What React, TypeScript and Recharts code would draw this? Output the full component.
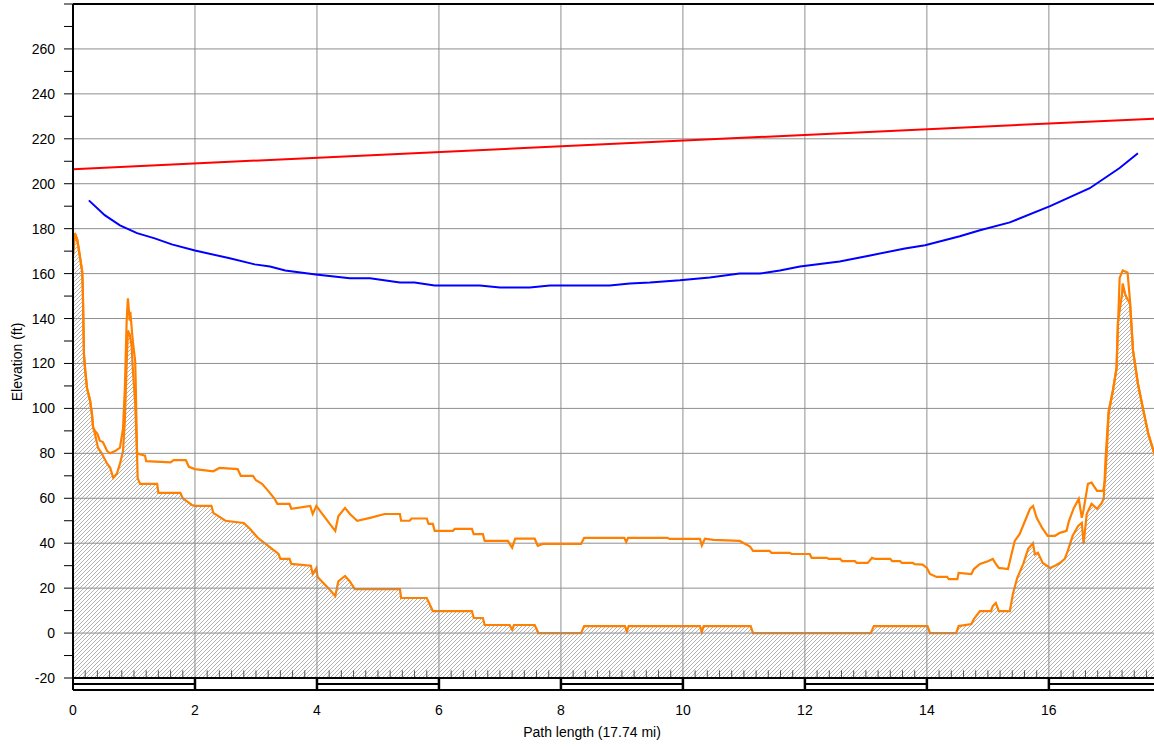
import {
  Area,
  ComposedChart,
  Line,
  ReferenceArea,
  ReferenceLine,
  XAxis,
  YAxis,
} from "recharts";

// terrain profile (lower orange line, hatched)
const groundMi = [
  0, 0.03, 0.07, 0.1, 0.15, 0.16, 0.18, 0.2, 0.23, 0.28, 0.31, 0.33, 0.36, 0.41,
  0.47, 0.56, 0.61, 0.66, 0.72, 0.77, 0.82, 0.85, 0.88, 0.9, 0.93, 0.96, 0.98,
  1.02, 1.05, 1.06, 1.1, 1.38, 1.4, 1.76, 1.8, 1.95, 2.0, 2.27, 2.3, 2.5, 2.8,
  2.9, 3.03, 3.2, 3.37, 3.4, 3.55, 3.58, 3.9, 3.93, 3.99, 4.01, 4.2, 4.3, 4.35,
  4.46, 4.54, 4.62, 5.36, 5.38, 5.8, 5.9, 6.54, 6.57, 6.72, 6.75, 7.16, 7.2,
  7.23, 7.57, 7.63, 8.33, 8.38, 9.05, 9.08, 9.11, 10.28, 10.31, 10.34, 11.11,
  11.15, 13.08, 13.13, 14.01, 14.05, 14.48, 14.52, 14.73, 14.77, 14.87, 15.05,
  15.08, 15.13, 15.18, 15.36, 15.41, 15.48, 15.58, 15.66, 15.74, 15.77, 15.82,
  15.9, 16.02, 16.1, 16.18, 16.26, 16.31, 16.39, 16.48, 16.54, 16.57, 16.62,
  16.7, 16.79, 16.87, 16.9, 16.93, 16.98, 17.05, 17.11, 17.13, 17.2, 17.21,
  17.25, 17.28, 17.33, 17.38, 17.46, 17.55, 17.63, 17.7, 17.74,
];
const groundFt = [
  168, 178, 175, 170, 161, 154, 124, 117, 109, 103.5, 97.6, 91.5, 88.7, 82.5,
  80, 75.4, 73.6, 69, 71, 75.4, 81, 94.5, 120, 134.7, 133, 128, 118, 102, 80,
  69, 66.4, 66.4, 62.4, 62.4, 60, 57, 56.6, 56.6, 53.5, 50, 49, 46.4, 42.4,
  38.8, 35.2, 33, 33, 30.8, 30, 26.3, 29, 25, 19.6, 16.5, 23, 25.4, 23, 19.6,
  19.6, 15.6, 15.6, 9.8, 9.8, 6.7, 6.7, 3.6, 3.6, 1.5, 3.6, 3.6, 0, 0, 3.1,
  3.1, 0.8, 3.1, 3.1, 0.5, 3.1, 3.1, 0, 0, 3.1, 3.1, 0, 0, 3.1, 4, 6.2, 9.8,
  9.8, 12, 13.4, 9.8, 9.8, 17.4, 24.5, 30.8, 37.5, 40, 35, 35.7, 31.2, 29, 30,
  31.2, 33, 36.6, 43.3, 47.7, 49, 39.7, 53, 57.5, 55.3, 58, 60, 78, 99, 108,
  118, 138, 151, 155.6, 151, 149, 146.7, 125.7, 111, 99, 88.7, 82.5, 79,
];

// terrain + clutter (upper orange line)
const clutterMi = [
  0, 0.03, 0.07, 0.1, 0.15, 0.16, 0.18, 0.2, 0.23, 0.28, 0.31, 0.33, 0.36, 0.4,
  0.44, 0.49, 0.56, 0.61, 0.69, 0.77, 0.82, 0.85, 0.88, 0.9, 0.93, 0.94, 0.98,
  1.02, 1.03, 1.05, 1.18, 1.2, 1.6, 1.65, 1.85, 1.9, 2.0, 2.3, 2.4, 2.7, 2.75,
  2.95, 3.0, 3.1, 3.2, 3.3, 3.35, 3.55, 3.58, 3.89, 3.93, 3.99, 4.05, 4.21, 4.3,
  4.35, 4.46, 4.54, 4.66, 4.87, 5.11, 5.36, 5.38, 5.52, 5.55, 5.8, 5.83, 5.9,
  5.93, 6.23, 6.26, 6.54, 6.57, 6.72, 6.75, 7.13, 7.2, 7.25, 7.57, 7.62, 7.7,
  8.33, 8.38, 9.04, 9.07, 9.1, 9.75, 9.78, 10.28, 10.31, 10.36, 10.5, 10.93,
  11.1, 11.15, 11.42, 11.45, 11.75, 11.78, 12.08, 12.11, 12.36, 12.39, 12.58,
  12.61, 12.82, 12.85, 13.03, 13.1, 13.15, 13.4, 13.43, 13.56, 13.59, 13.77,
  13.8, 13.93, 14.0, 14.05, 14.16, 14.33, 14.36, 14.5, 14.52, 14.73, 14.77,
  14.87, 15.0, 15.08, 15.13, 15.18, 15.33, 15.36, 15.44, 15.52, 15.61, 15.69,
  15.74, 15.8, 15.89, 15.98, 16.1, 16.18, 16.29, 16.33, 16.41, 16.49, 16.54,
  16.57, 16.64, 16.7, 16.79, 16.89, 16.92, 16.95, 16.98, 17.05, 17.11, 17.16,
  17.21, 17.29, 17.33, 17.38, 17.46, 17.55, 17.63, 17.7, 17.74,
];
const clutterFt = [
  168, 178, 175, 170, 161, 154, 124, 117, 109, 103.5, 97.6, 91.5, 90, 88.7,
  85.6, 85, 81, 80, 81, 82.5, 91, 109, 139, 149, 139, 143, 130, 121, 109, 80,
  79, 76.5, 76, 77, 77, 74, 73, 72, 73.5, 73, 70, 70, 68, 66.4, 63.3, 60, 57.5,
  57.5, 55.3, 56.6, 53, 56.6, 54.4, 48.6, 45.5, 52, 55.7, 53, 50, 51.3, 53, 53,
  50, 50, 51, 51, 48.6, 48.6, 45.5, 45.5, 46.4, 46.4, 44, 44, 41, 41, 38, 42,
  42, 38.8, 39.7, 39.7, 42.4, 42.4, 40.5, 42.4, 42.4, 41.9, 41.9, 39, 42, 41.5,
  41, 38.5, 36.6, 36.6, 35.7, 35.7, 35.2, 35.2, 33.5, 33.5, 33, 33, 32, 32,
  31.2, 31.2, 33.5, 33, 33, 32, 32, 31.2, 31.2, 30.7, 30.5, 29, 26.3, 25, 25,
  24, 24, 26.8, 26.3, 28.5, 30.8, 32, 33, 30.8, 29, 28.5, 32, 41, 44, 50, 55.3,
  56.6, 51.3, 46.8, 43.3, 43.3, 44.6, 45.5, 50, 55.7, 59.7, 51.3, 55, 66.4, 67,
  63.3, 63.3, 67.8, 81, 97.6, 108, 118, 158, 161.4, 160.5, 148, 125.7, 111, 99,
  88.7, 82.5, 79,
];

// first Fresnel zone bottom (blue)
const fresnelMi = [
  0.26, 0.52, 0.77, 1.05, 1.34, 1.62, 2.0, 2.57, 2.98, 3.23, 3.48, 3.98, 4.54,
  4.87, 5.36, 5.6, 5.93, 6.67, 7.0, 7.49, 7.82, 8.8, 9.13, 9.46, 9.95, 10.44,
  10.93, 11.26, 11.59, 11.92, 12.57, 13.07, 13.64, 13.97, 14.54, 14.87, 15.36,
  16.02, 16.67, 17.16, 17.46,
];
const fresnelFt = [
  192.6, 186, 181.5, 178, 175.7, 173, 170.3, 166.8, 164.1, 163.2, 161.4, 159.6,
  157.9, 157.9, 156, 156, 154.7, 154.7, 153.8, 153.8, 154.7, 154.7, 155.6, 156,
  157, 158.3, 160, 160, 161.4, 163.2, 165.4, 168.1, 171.2, 172.6, 176.6, 179.3,
  182.8, 190, 198, 207, 213.6,
];

// line of sight (red)
const losMi = [0, 17.74];
const losFt = [206.5, 229];

const X_MAX = 17.74;
const Y_MIN = -25.34;
const Y_MAX = 280;
const BAND_MID = -22.67;

const xTicks = [0, 2, 4, 6, 8, 10, 12, 14, 16];
const yTicks = [
  -20, -10, 0, 10, 20, 30, 40, 50, 60, 70, 80, 90, 100, 110, 120, 130, 140, 150,
  160, 170, 180, 190, 200, 210, 220, 230, 240, 250, 260, 270, 280,
];
const gridFt = [0, 20, 40, 60, 80, 100, 120, 140, 160, 180, 200, 220, 240, 260];
const gridMi = [2, 4, 6, 8, 10, 12, 14, 16];
const bandDouble = [
  [0, 2],
  [4, 6],
  [8, 10],
  [12, 14],
  [16, X_MAX],
];
// small ticks every 0.2 mi along the -20 ft line, skipping the 2 mi marks
const hatchTicks = Array.from({ length: 88 }, (_, i) => i + 1)
  .filter((i) => i % 10 !== 0)
  .map((i) => i / 5);

const toRows = (mi: number[], ft: number[]) =>
  mi.map((m, i) => ({ mi: m, ft: ft[i] }));

const groundData = toRows(groundMi, groundFt);
const clutterData = toRows(clutterMi, clutterFt);
const fresnelData = toRows(fresnelMi, fresnelFt);
const losData = toRows(losMi, losFt);

const FONT = "'Liberation Sans', Arial, sans-serif";
const ORANGE = "#ff8000";
const GRID = "#8f8f8f";

export default function App() {
  return (
    <div
      style={{
        position: "absolute",
        left: 0,
        top: 0,
        width: 1154,
        height: 746,
        overflow: "hidden",
        background: "#fff",
        fontFamily: FONT,
      }}
    >
      <ComposedChart
        width={1155}
        height={746}
        margin={{ top: 4, right: 0, bottom: 0, left: 0 }}
      >
        <defs>
          <pattern
            height={4}
            id="hatch"
            patternUnits="userSpaceOnUse"
            width={4}
          >
            <path
              d="M-1,1 l2,-2 M0,4 l4,-4 M3,5 l2,-2"
              stroke="#9a9a9a"
              strokeWidth={0.75}
            />
          </pattern>
        </defs>
        <XAxis
          allowDataOverflow
          axisLine={{ stroke: "#000", strokeWidth: 2 }}
          dataKey="mi"
          domain={[0, X_MAX]}
          height={56}
          interval={0}
          label={({ viewBox }: any) => (
            <text
              fill="#000"
              fontFamily={FONT}
              fontSize={14}
              textAnchor="middle"
              x={viewBox.x + viewBox.width / 2 - 22}
              y={viewBox.y + 47}
            >
              Path length (17.74 mi)
            </text>
          )}
          tick={{ fill: "#000", fontFamily: FONT, fontSize: 14 }}
          tickLine={false}
          tickMargin={15}
          tickSize={0}
          ticks={xTicks}
          type="number"
        />
        <YAxis
          allowDataOverflow
          axisLine={{ stroke: "#000", strokeWidth: 2 }}
          domain={[Y_MIN, Y_MAX]}
          interval={0}
          label={({ viewBox }: any) => {
            const cx = viewBox.x + 17;
            const cy = viewBox.y + viewBox.height / 2 + 15;
            return (
              <text
                dominantBaseline="central"
                fill="#000"
                fontFamily={FONT}
                fontSize={14}
                textAnchor="middle"
                transform={`rotate(-90 ${cx} ${cy})`}
                x={cx}
                y={cy}
              >
                Elevation (ft)
              </text>
            );
          }}
          tick={{ fill: "#000", fontFamily: FONT, fontSize: 14 }}
          tickFormatter={(v: number) =>
            v % 20 === 0 && v < 280 ? String(v) : ""
          }
          tickLine={{ stroke: "#000" }}
          tickMargin={9}
          tickSize={9}
          ticks={yTicks}
          type="number"
          width={73}
        />

        {gridFt.map((v) => (
          <ReferenceLine key={`gy${v}`} stroke={GRID} y={v} />
        ))}
        {gridMi.map((v) => (
          <ReferenceLine
            key={`gx${v}`}
            segment={[
              { x: v, y: -20 },
              { x: v, y: Y_MAX },
            ]}
            stroke={GRID}
          />
        ))}

        <Area
          activeDot={false}
          baseValue={-20}
          data={groundData}
          dataKey="ft"
          dot={false}
          fill="url(#hatch)"
          fillOpacity={1}
          isAnimationActive={false}
          stroke={ORANGE}
          strokeWidth={2.2}
          type="linear"
        />
        <Line
          activeDot={false}
          data={clutterData}
          dataKey="ft"
          dot={false}
          isAnimationActive={false}
          stroke={ORANGE}
          strokeWidth={2.2}
          type="linear"
        />
        <Line
          activeDot={false}
          data={fresnelData}
          dataKey="ft"
          dot={false}
          isAnimationActive={false}
          stroke="#0000ff"
          strokeWidth={2}
          type="linear"
        />
        <Line
          activeDot={false}
          data={losData}
          dataKey="ft"
          dot={false}
          isAnimationActive={false}
          stroke="#ff0000"
          strokeWidth={2}
          type="linear"
        />

        {/* distance scale band under the profile */}
        <ReferenceArea
          fill="#fff"
          fillOpacity={1}
          stroke="none"
          x1={0}
          x2={X_MAX}
          y1={Y_MIN}
          y2={-20}
        />
        {hatchTicks.map((v) => (
          <ReferenceLine
            key={`ht${v}`}
            segment={[
              { x: v, y: -20 },
              { x: v, y: -16.6 },
            ]}
            stroke="#555"
          />
        ))}
        <ReferenceLine stroke="#000" strokeWidth={2} y={-20} />
        {bandDouble.map(([a, b]) => (
          <ReferenceLine
            key={`bd${a}`}
            segment={[
              { x: a, y: BAND_MID },
              { x: b, y: BAND_MID },
            ]}
            stroke="#000"
            strokeWidth={2}
          />
        ))}
        {gridMi.map((v) => (
          <ReferenceLine
            key={`bv${v}`}
            segment={[
              { x: v, y: Y_MIN },
              { x: v, y: -20 },
            ]}
            stroke="#000"
            strokeWidth={2.5}
          />
        ))}
        <ReferenceLine stroke="#000" strokeWidth={2} y={Y_MAX} />
      </ComposedChart>
    </div>
  );
}
